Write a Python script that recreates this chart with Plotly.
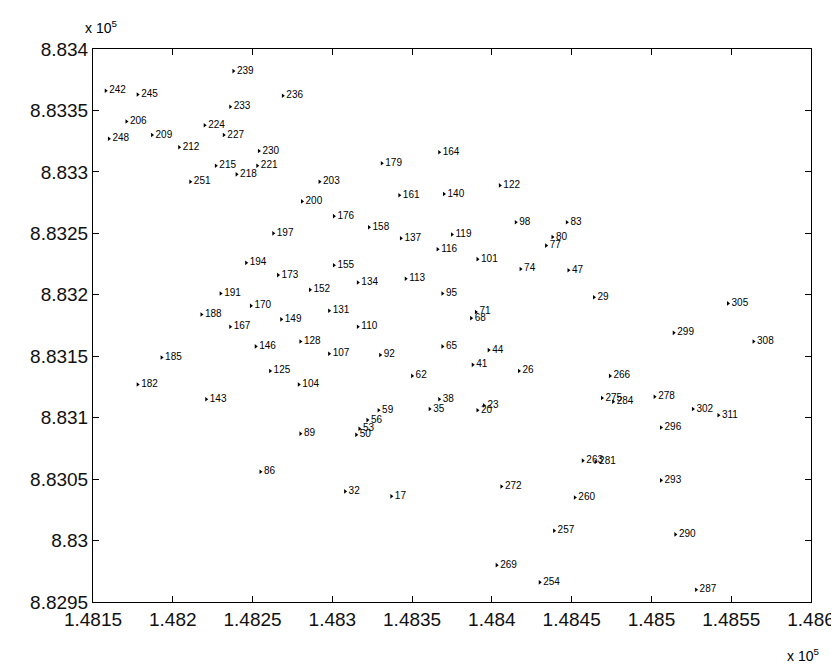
import plotly.graph_objects as go

# Point identifiers and coordinates (easting, northing)
ids = [17, 20, 23, 26, 29, 32, 35, 38, 41, 44, 47, 50, 53, 56, 59, 62, 65, 68, 71, 74,
       77, 80, 83, 86, 89, 92, 95, 98,
       101, 104, 107, 110, 113, 116, 119, 122, 125, 128, 131, 134, 137, 140, 143, 146,
       149, 152, 155, 158, 161, 164, 167, 170, 173, 176, 179, 182, 185, 188, 191, 194, 197,
       200, 203, 206, 209, 212, 215, 218, 221, 224, 227, 230, 233, 236, 239, 242, 245,
       248, 251, 254, 257, 260, 263, 266, 269, 272, 275, 278, 281, 284, 287, 290, 293,
       296, 299, 302, 305, 308, 311]

east = [148337, 148391, 148395, 148417, 148464, 148308, 148361, 148367, 148388, 148398,
        148448, 148315, 148317, 148322, 148329, 148350, 148369, 148387, 148390, 148418,
        148434, 148438, 148447, 148255, 148280, 148330, 148369, 148415,
        148391, 148279, 148298, 148316, 148346, 148366, 148375, 148405, 148261, 148280,
        148298, 148316, 148343, 148370, 148221, 148252, 148268, 148286, 148301, 148323,
        148342, 148367, 148236, 148249, 148266, 148301, 148331, 148178, 148193, 148218,
        148230, 148246, 148263,
        148281, 148292, 148171, 148187, 148204, 148227, 148240, 148253, 148220, 148232,
        148254, 148236, 148269, 148238, 148158, 148178, 148160, 148211, 148430, 148439,
        148452, 148457, 148474, 148403, 148406, 148469, 148502, 148465, 148476, 148528,
        148515, 148506, 148506, 148514, 148526, 148548, 148564, 148542]

north = [883036, 883106, 883110, 883138, 883198, 883040, 883107, 883115, 883143, 883155,
         883220, 883086, 883091, 883098, 883106, 883134, 883158, 883181, 883186, 883221,
         883240, 883247, 883259, 883056, 883087, 883151, 883201, 883259,
         883229, 883127, 883152, 883174, 883213, 883237, 883249, 883289, 883138, 883162,
         883187, 883210, 883246, 883282, 883115, 883158, 883180, 883204, 883224, 883255,
         883281, 883316, 883174, 883191, 883216, 883264, 883307, 883127, 883149, 883184,
         883201, 883226, 883250,
         883276, 883292, 883341, 883330, 883320, 883305, 883298, 883305, 883338, 883330,
         883317, 883353, 883362, 883382, 883366, 883363, 883327, 883292, 882966, 883008,
         883035, 883065, 883134, 882980, 883044, 883116, 883117, 883064, 883113, 882960,
         883005, 883049, 883092, 883169, 883107, 883193, 883162, 883102]

x_tickvals = [148150, 148200, 148250, 148300, 148350, 148400, 148450, 148500, 148550, 148600]
x_ticktext = ["1.4815", "1.482", "1.4825", "1.483", "1.4835", "1.484", "1.4845", "1.485", "1.4855", "1.486"]
y_tickvals = [882950, 883000, 883050, 883100, 883150, 883200, 883250, 883300, 883350, 883400]
y_ticktext = ["8.8295", "8.83", "8.8305", "8.831", "8.8315", "8.832", "8.8325", "8.833", "8.8335", "8.834"]

fig = go.Figure()
fig.add_trace(go.Scatter(
    x=east, y=north, text=[str(i) for i in ids],
    mode="markers+text", textposition="middle right",
    marker=dict(symbol="triangle-right", size=4, color="black"),
    textfont=dict(family="Arial, Liberation Sans", size=10, color="black"),
    showlegend=False, hoverinfo="skip",
))

axis_common = dict(showgrid=False, zeroline=False, showline=True, linecolor="black",
                   linewidth=1, mirror="ticks", ticks="inside", ticklen=6,
                   tickcolor="black",
                   tickfont=dict(family="Arial, Liberation Sans", size=19, color="#111111"))

fig.update_xaxes(range=[148150, 148600], tickmode="array", tickvals=x_tickvals,
                 ticktext=x_ticktext, **axis_common)
fig.update_yaxes(range=[882950, 883400], tickmode="array", tickvals=y_tickvals,
                 ticktext=y_ticktext, **axis_common)

fig.add_annotation(x=0.0, y=1.0, xref="paper", yref="paper", xanchor="left", yanchor="bottom",
                   xshift=-10, yshift=11, showarrow=False, text="x 10<sup>5</sup>",
                   font=dict(family="Arial, Liberation Sans", size=14, color="black"))
fig.add_annotation(x=1.0, y=0.0, xref="paper", yref="paper", xanchor="right", yanchor="top",
                   xshift=10, yshift=-42, showarrow=False, text="x 10<sup>5</sup>",
                   font=dict(family="Arial, Liberation Sans", size=14, color="black"))

fig.update_layout(width=839, height=667, margin=dict(l=85, r=29, t=41, b=73),
                  plot_bgcolor="white", paper_bgcolor="white")

fig.write_html("out.html")
